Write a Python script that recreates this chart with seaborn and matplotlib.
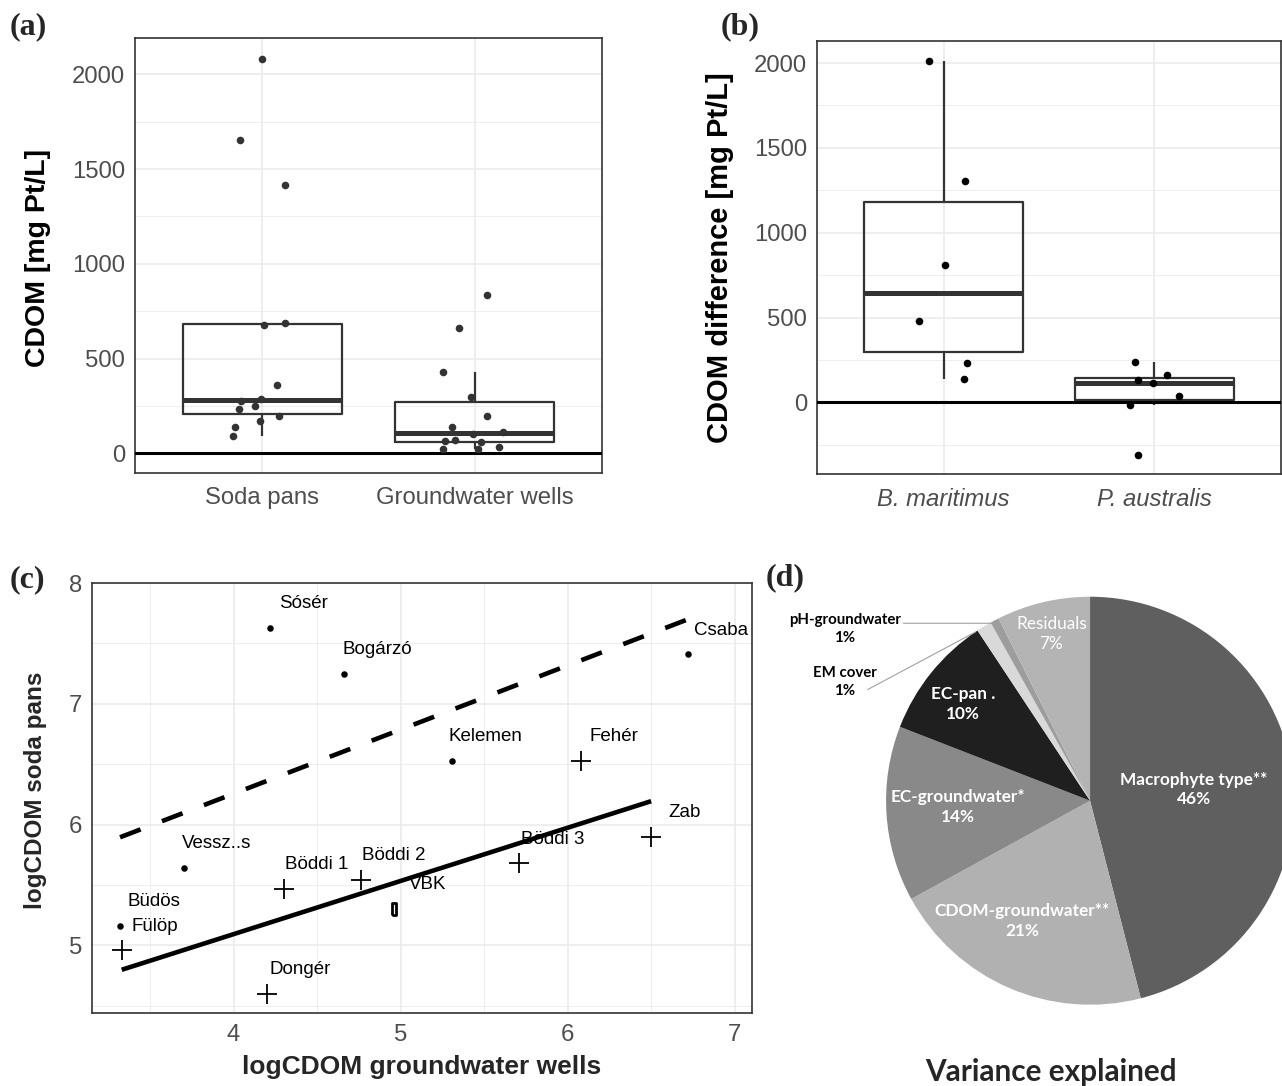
import numpy as np
import pandas as pd
import matplotlib
matplotlib.use("Agg")
import matplotlib.pyplot as plt
from matplotlib.ticker import MultipleLocator
import seaborn as sns

# ---- (a) CDOM in soda pans and groundwater wells ----
soda_cdom = [2081, 1653, 1418, 675, 686, 359, 276, 288, 234, 248, 197, 169, 139, 93]
soda_jit = [0.0, -0.107, 0.107, 0.01, 0.107, 0.068, -0.102, -0.005, -0.108, -0.035, 0.077, -0.013, -0.129, -0.14]
gw_cdom = [834, 661, 431, 297, 199, 140, 102, 111, 63, 70, 60, 23, 23, 35]
gw_jit = [0.057, -0.075, -0.151, -0.016, 0.06, -0.107, -0.009, 0.135, -0.138, -0.094, 0.028, -0.151, 0.016, 0.116]
groups_a = ["Soda pans", "Groundwater wells"]

# ---- (b) CDOM difference by macrophyte ----
bm_diff = [2012, 1307, 809, 481, 233, 137]
bm_jit = [-0.068, 0.1, 0.008, -0.118, 0.11, 0.098]
pa_diff = [239, 159, 131, 115, 40, -15, -312]
pa_jit = [-0.09, 0.06, -0.077, -0.008, 0.117, -0.115, -0.076]
groups_b = ["B. maritimus", "P. australis"]

# ---- (c) logCDOM soda pans vs groundwater wells ----
dot_names = ["Sósér", "Bogárzó", "Csaba", "Kelemen", "Vessz..s", "Büdös"]
dot_x = [4.22, 4.66, 6.72, 5.31, 3.70, 3.32]
dot_y = [7.63, 7.25, 7.41, 6.53, 5.64, 5.16]
cross_names = ["Fülöp", "Dongér", "Böddi 1", "Böddi 2", "Böddi 3", "Fehér", "Zab"]
cross_x = [3.33, 4.20, 4.30, 4.76, 5.71, 6.08, 6.50]
cross_y = [4.96, 4.60, 5.47, 5.54, 5.68, 6.53, 5.90]
other_names = ["VBK"]
other_x = [4.96]
other_y = [5.30]

# ---- (d) variance explained ----
pie_labels = ["Macrophyte type**", "CDOM-groundwater**", "EC-groundwater*", "EC-pan .",
              "EM cover", "pH-groundwater", "Residuals"]
pie_vals = [46.0, 21.0, 13.9, 9.8, 1.2, 0.7, 7.4]
pie_cols = ["#5f5f5f", "#b1b1b1", "#898989", "#1f1f1f", "#d9d9d9", "#9d9d9d", "#b4b4b4"]

sns.set_style("white")
plt.rcParams["font.family"] = ["Liberation Sans", "DejaVu Sans"]

fig = plt.figure(figsize=(12.82, 10.86), dpi=100)
W, H = 1282, 1086


def px_axes(l, t, r, b):
    return fig.add_axes([l / W, 1 - b / H, (r - l) / W, (b - t) / H])


def style(ax, tick_size=17.2):
    for s in ax.spines.values():
        s.set_color("#333333")
        s.set_linewidth(1.2)
    ax.grid(True, which="major", color="#ebebeb", lw=1.2)
    ax.grid(True, which="minor", color="#ebebeb", lw=0.6)
    ax.set_axisbelow(True)
    ax.tick_params(which="major", length=4, width=1.2, color="#333333",
                   labelcolor="#4d4d4d", labelsize=tick_size, pad=3)
    ax.tick_params(axis="x", which="major", pad=6)
    ax.tick_params(which="minor", length=0)


def box_panel(ax, vals, jits, groups, pt_color):
    df = pd.DataFrame({"g": [groups[0]] * len(vals[0]) + [groups[1]] * len(vals[1]),
                       "v": list(vals[0]) + list(vals[1])})
    sns.boxplot(data=df, x="g", y="v", order=groups, ax=ax, width=0.75, fill=False,
                color="#333333", linewidth=1.6, showfliers=False, showcaps=False,
                medianprops={"linewidth": 3.6})
    px = np.concatenate([np.array(jits[0]) + 0, np.array(jits[1]) + 1])
    py = np.concatenate([vals[0], vals[1]])
    sns.scatterplot(x=px, y=py, ax=ax, color=pt_color, s=30, linewidth=0, zorder=5)
    ax.axhline(0, color="black", lw=2.2, zorder=4)
    ax.set_xlim(-0.6, 1.6)
    ax.set_xlabel("")
    ax.yaxis.set_major_locator(MultipleLocator(500))
    ax.yaxis.set_minor_locator(MultipleLocator(250))
    style(ax)


# (a)
ax_a = px_axes(135, 38, 602, 473)
box_panel(ax_a, [soda_cdom, gw_cdom], [soda_jit, gw_jit], groups_a, "#333333")
ax_a.set_ylim(-104, 2192)
ax_a.set_ylabel("CDOM [mg Pt/L]", fontsize=20.5, fontweight="bold", color="black")
ax_a.yaxis.label.set_va("center")
ax_a.yaxis.set_label_coords(-0.208, 0.494)

# (b)
ax_b = px_axes(817, 41, 1281, 474)
box_panel(ax_b, [bm_diff, pa_diff], [bm_jit, pa_jit], groups_b, "black")
ax_b.set_ylim(-422, 2130)
for t in ax_b.get_xticklabels():
    t.set_fontstyle("italic")
ax_b.set_ylabel("CDOM difference [mg Pt/L]", fontsize=21, fontweight="bold", color="black")
ax_b.yaxis.label.set_va("center")
ax_b.yaxis.set_label_coords(-0.208, 0.5)

# (c)
ax_c = px_axes(92, 583, 752, 1013)
sns.regplot(x=dot_x, y=dot_y, ax=ax_c, scatter=False, ci=None, truncate=True,
            line_kws={"color": "black", "lw": 3.3, "dashes": (4.8, 5.0)})
sns.regplot(x=cross_x, y=cross_y, ax=ax_c, scatter=False, ci=None, truncate=True,
            line_kws={"color": "black", "lw": 3.3, "solid_capstyle": "butt"})
sns.scatterplot(x=dot_x, y=dot_y, ax=ax_c, color="black", s=22, linewidth=0, zorder=5)
sns.scatterplot(x=cross_x, y=cross_y, ax=ax_c, color="black", marker="+", s=200,
                linewidth=1.3, zorder=5)
rect_marker = [(-0.42, -1), (0.42, -1), (0.42, 1), (-0.42, 1), (-0.42, -1)]
sns.scatterplot(x=other_x, y=other_y, ax=ax_c, marker=rect_marker, s=70,
                facecolor="white", edgecolor="black", linewidth=2.0, zorder=5)
nudge = 0.2
for names, xs, ys in [(dot_names, dot_x, dot_y), (cross_names, cross_x, cross_y),
                      (other_names, other_x, other_y)]:
    for n, x, y in zip(names, xs, ys):
        ax_c.text(x + nudge, y + nudge, n, ha="center", va="center", fontsize=13.5, color="black")
ax_c.set_xlim(3.152, 7.104)
ax_c.set_ylim(4.44, 8.0)
ax_c.xaxis.set_major_locator(MultipleLocator(1))
ax_c.xaxis.set_minor_locator(MultipleLocator(0.5))
ax_c.yaxis.set_major_locator(MultipleLocator(1))
ax_c.yaxis.set_minor_locator(MultipleLocator(0.5))
style(ax_c)
ax_c.tick_params(axis="x", which="major", pad=4)
ax_c.set_xlabel("logCDOM groundwater wells", fontsize=19, fontweight="bold")
ax_c.set_ylabel("logCDOM soda pans", fontsize=17.5, fontweight="bold")
ax_c.xaxis.label.set_va("center")
ax_c.yaxis.label.set_va("center")
ax_c.xaxis.set_label_coords(0.499, -0.126)
ax_c.yaxis.set_label_coords(-0.086, 0.517)

# (d)
ax_d = px_axes(770, 590, 1282, 1010)
ax_d.pie(pie_vals, colors=pie_cols, startangle=90, counterclock=False, radius=1,
         wedgeprops={"linewidth": 0})
ax_d.set_aspect("auto")
ax_d.set_xlim(-1.569, 0.941)
ax_d.set_ylim(-1.026, 1.033)
ax_d.axis("off")

pie_font = ["Lato", "DejaVu Sans"]
inner_pos = {0: (0.510, 0.055), 1: (-0.332, -0.589), 2: (-0.647, -0.033),
             3: (-0.624, 0.475), 6: (-0.190, 0.818)}
for i, (x, y) in inner_pos.items():
    wt = "normal" if pie_labels[i] == "Residuals" else "bold"
    ax_d.text(x, y, f"{pie_labels[i]}\n{round(pie_vals[i]):d}%", ha="center", va="center",
              color="white", fontsize=12.4, fontweight=wt, family=pie_font, linespacing=1.3)
outer_pos = {5: ((-1.201, 0.840), (-0.915, 0.870)),
             4: ((-1.201, 0.584), (-1.09, 0.545))}
for i, (tp, lp) in outer_pos.items():
    ax_d.text(tp[0], tp[1], f"{pie_labels[i]}\n{round(pie_vals[i]):d}%", ha="center", va="center",
              color="black", fontsize=10.8, fontweight="bold", family=pie_font, linespacing=1.35)
    if i == 5:
        ax_d.plot([lp[0], -0.48, -0.47], [lp[1], lp[1], 0.868], color="#a0a0a0", lw=0.8,
                  clip_on=False)
    else:
        ax_d.plot([lp[0], -0.562], [lp[1], 0.827], color="#a0a0a0", lw=0.8, clip_on=False)

fig.text(1051 / W, 1 - 1072 / H, "Variance explained", ha="center", va="center",
         fontsize=21.4, fontweight="bold", family=pie_font)

# panel letters
for lab, x, y in [("(a)", 28, 27), ("(b)", 740, 27), ("(c)", 27, 580), ("(d)", 785, 578)]:
    fig.text(x / W, 1 - y / H, lab, ha="center", va="center", fontsize=23,
             fontweight="bold", family=["Liberation Serif", "DejaVu Serif"])

fig.savefig("out.png", dpi=100)
